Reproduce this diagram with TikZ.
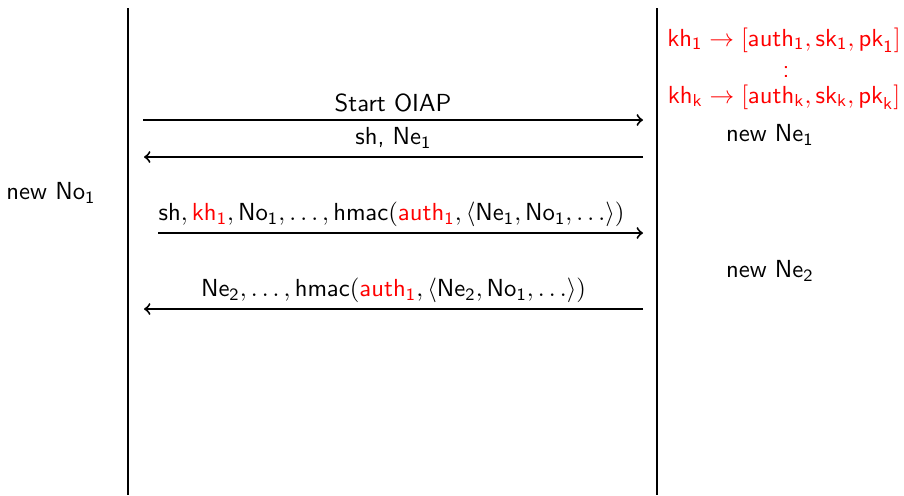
\documentclass[tikz,border=0pt]{standalone}
\usetikzlibrary{arrows}
\begin{document}
\begin{tikzpicture}[x=0.405pt,y=-0.405pt,
  lifeline/.style={line width=0.8pt},
  msg/.style={line width=0.8pt,->},
  lbl/.style={font=\sffamily,inner sep=1pt},
  red/.style={text=red}]
\useasboundingbox (0,0) rectangle (904,495);
\newcommand{\sv}[1]{\mathsf{#1}}
% lifelines
\coordinate (ut) at (128,8);  \coordinate (ub) at (128,495);
\coordinate (tt) at (657,8);  \coordinate (tb) at (657,495);
\draw[lifeline] (ut) -- (ub);
\draw[lifeline] (tt) -- (tb);
% message end points
\coordinate (a1) at (143,120); \coordinate (b1) at (643,120);
\coordinate (a2) at (643,157); \coordinate (b2) at (144,157);
\coordinate (a3) at (158,233); \coordinate (b3) at (643,233);
\coordinate (a4) at (643,309); \coordinate (b4) at (144,309);
\draw[msg] (a1) -- node[lbl,above=2pt] {Start OIAP} (b1);
\draw[msg] (a2) -- node[lbl,above=2pt] {sh, Ne$_{\sv{1}}$} (b2);
\draw[msg] (a3) -- node[lbl,above=1pt,xshift=-3.6pt]
  {$\sv{sh}, \textcolor{red}{\sv{kh}_{\sv{1}}}, \sv{No}_{\sv{1}}, \ldots, \sv{hmac}(\textcolor{red}{\sv{auth}_{\sv{1}}}, \langle \sv{Ne}_{\sv{1}}, \sv{No}_{\sv{1}}, \ldots\rangle)$} (b3);
\draw[msg] (a4) -- node[lbl,above=1pt]
  {$\sv{Ne}_{\sv{2}}, \ldots, \sv{hmac}(\textcolor{red}{\sv{auth}_{\sv{1}}}, \langle \sv{Ne}_{\sv{2}}, \sv{No}_{\sv{1}}, \ldots\rangle)$} (b4);
% user side
\node[lbl] (nno) at (51,193) {new No$_{\sv{1}}$};
% TPM side
\node[lbl,red] (kh1) at (784,40)
  {$\sv{kh}_{\sv{1}} \rightarrow [\sv{auth}_{\sv{1}}, \sv{sk}_{\sv{1}}, \sv{pk}_{\sv{1}}]$};
\node[lbl,red,anchor=base] (dots) at (786,77) {:};
\node[lbl,red] (khk) at (784,97)
  {$\sv{kh}_{\sv{k}} \rightarrow [\sv{auth}_{\sv{k}}, \sv{sk}_{\sv{k}}, \sv{pk}_{\sv{k}}]$};
\node[lbl] (nne1) at (770,135) {new Ne$_{\sv{1}}$};
\node[lbl] (nne2) at (770,271) {new Ne$_{\sv{2}}$};
\end{tikzpicture}
\end{document}
